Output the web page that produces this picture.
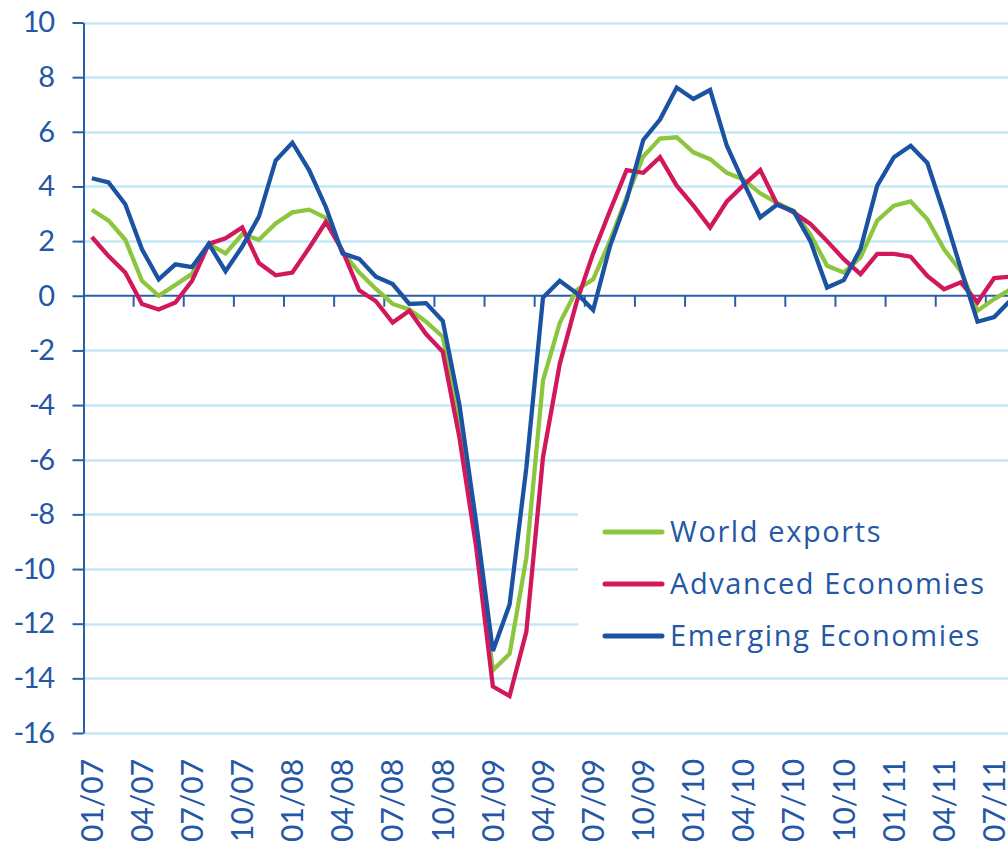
<!DOCTYPE html>
<html>
<head>
<meta charset="utf-8">
<script src="https://cdn.jsdelivr.net/npm/d3@7"></script>
<style>
  body { margin: 0; background: #fff; }
  svg { display: block; font-family: Lato, "Open Sans", sans-serif; }
</style>
</head>
<body>
<div id="chart"></div>
<script>
var months = [
  "01/07","02/07","03/07","04/07","05/07","06/07","07/07","08/07","09/07","10/07","11/07","12/07",
  "01/08","02/08","03/08","04/08","05/08","06/08","07/08","08/08","09/08","10/08","11/08","12/08",
  "01/09","02/09","03/09","04/09","05/09","06/09","07/09","08/09","09/09","10/09","11/09","12/09",
  "01/10","02/10","03/10","04/10","05/10","06/10","07/10","08/10","09/10","10/10","11/10","12/10",
  "01/11","02/11","03/11","04/11","05/11","06/11","07/11","08/11"
];

var worldExports = [
  3.15, 2.75, 2.05, 0.55, 0.0, 0.4, 0.8, 1.9, 1.55, 2.25, 2.05, 2.65,
  3.05, 3.15, 2.85, 1.6, 0.85, 0.25, -0.3, -0.5, -0.95, -1.5, -4.5, -9.0,
  -13.7, -13.1, -9.6, -3.1, -1.0, 0.2, 0.6, 2.0, 3.6, 5.1, 5.75, 5.8,
  5.25, 5.0, 4.5, 4.25, 3.75, 3.4, 3.1, 2.25, 1.1, 0.85, 1.4, 2.75,
  3.3, 3.45, 2.8, 1.7, 0.9, -0.55, -0.12, 0.25
];

var advancedEconomies = [
  2.15, 1.45, 0.85, -0.3, -0.5, -0.25, 0.55, 1.9, 2.1, 2.5, 1.2, 0.75,
  0.85, 1.75, 2.7, 1.65, 0.2, -0.2, -0.98, -0.55, -1.4, -2.05, -5.2, -9.2,
  -14.3, -14.65, -12.3, -5.9, -2.5, -0.25, 1.55, 3.1, 4.6, 4.5, 5.07, 4.03,
  3.3, 2.5, 3.45, 4.05, 4.6, 3.36, 3.05, 2.63, 2.0, 1.34, 0.79, 1.53,
  1.53, 1.43, 0.73, 0.24, 0.49, -0.24, 0.65, 0.7
];

var emergingEconomies = [
  4.3, 4.15, 3.35, 1.7, 0.6, 1.15, 1.05, 1.9, 0.9, 1.8, 2.9, 4.95,
  5.6, 4.6, 3.25, 1.55, 1.35, 0.7, 0.43, -0.3, -0.27, -0.92, -4.0, -8.3,
  -13.0, -11.3, -6.3, -0.06, 0.55, 0.1, -0.52, 1.8, 3.5, 5.7, 6.45, 7.62,
  7.2, 7.53, 5.49, 4.15, 2.87, 3.33, 3.09, 2.0, 0.3, 0.57, 1.71, 4.03,
  5.07, 5.49, 4.86, 3.0, 1.0, -0.95, -0.78, -0.15
];

var seriesNames = ["World exports", "Advanced Economies", "Emerging Economies"];
var seriesColors = ["#8cc63f", "#d1185c", "#1b53a2"];
var yTicks = [10, 8, 6, 4, 2, 0, -2, -4, -6, -8, -10, -12, -14, -16];

var width = 1008,
  height = 852;

var axisColor = "#2a5eab",
  textColor = "#2457a6",
  gridColor = "#c4e7f7";

var svg = d3
  .select("#chart")
  .append("svg")
  .attr("width", width)
  .attr("height", height);

var x = d3
  .scaleBand()
  .domain(months)
  .range([83.5, 83.5 + months.length * 16.71]);

var y = d3
  .scaleLinear()
  .domain([-16, 10])
  .range([733, 22.5]);

function cx(m) {
  return x(m) + x.bandwidth() / 2;
}

// gridlines
svg
  .append("g")
  .selectAll("line")
  .data(yTicks.filter(function(d) { return d !== 0; }))
  .enter()
  .append("line")
  .attr("x1", 84)
  .attr("x2", width)
  .attr("y1", function(d) { return Math.round(y(d)) + 0.5; })
  .attr("y2", function(d) { return Math.round(y(d)) + 0.5; })
  .style("stroke", gridColor)
  .style("stroke-width", 2.5);

// y axis
var yAxis = svg
  .append("g")
  .attr("transform", "translate(83.5,0)")
  .call(
    d3
      .axisLeft(y)
      .tickValues(yTicks)
      .tickFormat(function(d) { return String(d); })
      .tickSize(11)
      .tickPadding(19)
      .tickSizeOuter(0)
  );
yAxis.select(".domain").style("stroke", axisColor).style("stroke-width", 2);
yAxis.selectAll(".tick line").style("stroke", axisColor).style("stroke-width", 2);
yAxis
  .selectAll(".tick text")
  .style("fill", textColor)
  .style("font-size", "29px")
  .style("letter-spacing", "-1.5px")
  .style("font-family", "Lato, sans-serif");

// zero line with quarter ticks
var zeroY = y(0);
svg
  .append("line")
  .attr("x1", 83.5)
  .attr("x2", width)
  .attr("y1", zeroY)
  .attr("y2", zeroY)
  .style("stroke", axisColor)
  .style("stroke-width", 2);

svg
  .append("g")
  .selectAll("line")
  .data(months.filter(function(m, i) { return i > 0 && i % 3 === 0; }))
  .enter()
  .append("line")
  .attr("x1", function(d) { return x(d); })
  .attr("x2", function(d) { return x(d); })
  .attr("y1", zeroY)
  .attr("y2", zeroY + 11)
  .style("stroke", axisColor)
  .style("stroke-width", 2);

// x labels at the bottom
var xAxis = svg
  .append("g")
  .attr("transform", "translate(0,762)")
  .call(
    d3
      .axisBottom(x)
      .tickValues(months.filter(function(m, i) { return i % 3 === 0; }))
      .tickSize(0)
      .tickPadding(0)
  );
xAxis.select(".domain").remove();
xAxis
  .selectAll(".tick text")
  .attr("transform", "rotate(-90)")
  .attr("x", -80)
  .attr("y", 0)
  .attr("dy", "0.36em")
  .style("text-anchor", "start")
  .style("fill", textColor)
  .style("font-size", "30px")
  .style("font-family", "Lato, sans-serif");

// series lines
var allSeries = [worldExports, advancedEconomies, emergingEconomies];

var line = d3
  .line()
  .x(function(d, i) { return cx(months[i]); })
  .y(function(d) { return y(d); });

svg
  .append("g")
  .selectAll("path")
  .data(allSeries)
  .enter()
  .append("path")
  .attr("d", line)
  .style("fill", "none")
  .style("stroke", function(d, i) { return seriesColors[i]; })
  .style("stroke-width", 4.3)
  .style("stroke-linejoin", "miter");

// legend
var legend = svg.append("g").attr("transform", "translate(578,488)");
legend
  .append("rect")
  .attr("width", width - 578)
  .attr("height", 170)
  .style("fill", "#fff");

var item = legend
  .selectAll("g")
  .data(seriesNames)
  .enter()
  .append("g")
  .attr("transform", function(d, i) { return "translate(0," + (44 + i * 52) + ")"; });

item
  .append("line")
  .attr("x1", 27)
  .attr("x2", 84)
  .style("stroke", function(d, i) { return seriesColors[i]; })
  .style("stroke-width", 5)
  .style("stroke-linecap", "round");

item
  .append("text")
  .attr("x", 92)
  .attr("dy", "0.35em")
  .text(function(d) { return d; })
  .style("fill", textColor)
  .style("font-size", "29px")
  .style("letter-spacing", "1.6px")
  .style("font-family", "'Open Sans', sans-serif");
</script>
</body>
</html>
